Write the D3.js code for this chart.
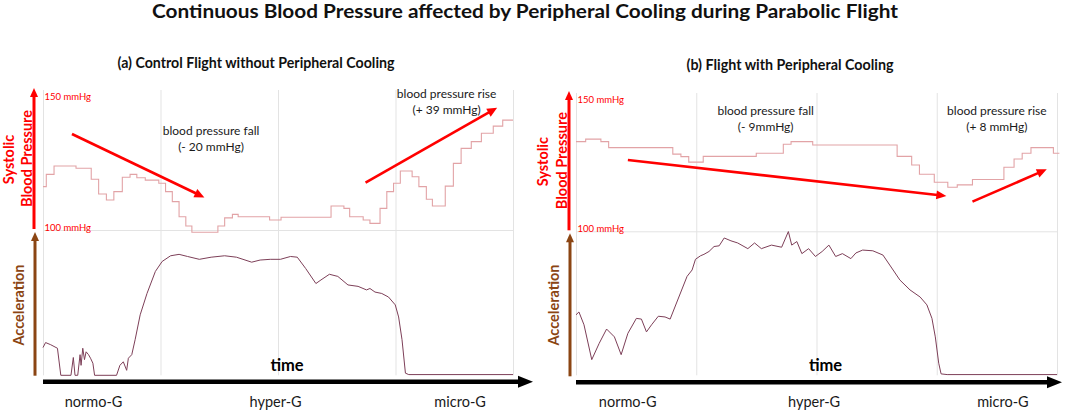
<!DOCTYPE html>
<html>
<head>
<meta charset="utf-8">
<script src="https://cdn.jsdelivr.net/npm/d3@7"></script>
<style>
  body { margin: 0; background: #fff; }
  svg { display: block; }
  text { font-family: Lato, "Open Sans", sans-serif; }
</style>
</head>
<body>
<div id="chart"></div>
<script>
const WIDTH = 1065
const HEIGHT = 412

// --- data (time in s, 0..80 ; pressure in mmHg ; acceleration in g) ---

const mainTitle = "Continuous Blood Pressure affected by Peripheral Cooling during Parabolic Flight"
const panelTitles = ["(a) Control Flight without Peripheral Cooling", "(b) Flight with Peripheral Cooling"]
const phaseLabels = ["normo-G", "hyper-G", "micro-G"]
const phaseTimes = [8.6, 39.6, 71]
const gridTimes = [0, 20, 40, 60, 80]
const bpTicks = [100, 150]

// (a) control flight
const ctrlBpTime = [0, 0.56, 1.88, 5.62, 8.21, 9.47, 10.79, 12.06, 13.5, 14.82, 15.97, 17.41, 19.71, 20.86, 22.01,
  23.16, 24.31, 25.34, 29.77, 30.92, 32.24, 33.22, 38.57, 40.52, 49.03, 51.22, 52.2, 54.5, 55.65, 57.37, 58.52,
  59.67, 60.82, 62.83, 63.98, 65.25, 66.28, 68.47, 69.85, 71.17, 72.9, 74.62, 76.64, 78.25, 80]
const ctrlBp = [115.4, 120.1, 123.3, 122.4, 118.2, 112.6, 110.3, 113.5, 119.0, 120.1, 118.8, 117.9, 116.7, 113.5, 109.7,
  103.9, 100.4, 98.0, 100.4, 103.5, 104.8, 103.9, 102.7, 103.7, 108.0, 107.1, 103.9, 102.7, 101.4, 107.1, 113.5,
  116.7, 121.4, 119.2, 115.4, 110.6, 108.0, 115.6, 124.3, 130.0, 132.6, 135.8, 138.5, 140.8, 140.8]
const ctrlAccTime = [0, 0.44, 1.31, 2.46, 3.03, 4.76, 5.16, 5.45, 5.91, 6.31, 6.48, 6.77, 7.06, 7.34, 7.75,
  8.09, 8.49, 8.78, 12.52, 13.09, 13.67, 14.24, 14.53, 15.11, 15.68, 16.54, 17.7, 19.13, 20.28, 21.72,
  23.16, 24.6, 26.61, 28.62, 30.92, 32.93, 35.52, 36.96, 38.68, 40.41, 42.13, 43.28, 44.72, 46.45, 47.31,
  48.75, 50.18, 51.91, 53.63, 55.07, 55.65, 56.51, 57.66, 58.81, 59.96, 60.53, 61.11, 61.69, 62.26, 80]
const ctrlAcc = [0.39, 0.46, 0.43, 0.38, 0.0, 0.0, 0.25, 0.0, 0.0, 0.29, 0.14, 0.38, 0.22, 0.33, 0.29,
  0.24, 0.17, 0.0, 0.0, 0.14, 0.19, 0.07, 0.24, 0.29, 0.50, 0.85, 1.15, 1.46, 1.60, 1.68,
  1.70, 1.67, 1.63, 1.66, 1.68, 1.66, 1.59, 1.62, 1.63, 1.63, 1.67, 1.66, 1.50, 1.29, 1.34,
  1.42, 1.39, 1.27, 1.25, 1.20, 1.22, 1.17, 1.15, 1.10, 0.99, 0.82, 0.50, 0.03, 0.01, 0.01]
// annotation arrows: [t0, bp0, t1, bp1]
const ctrlArrows = [[4.93, 135.5, 27.47, 111.3], [54.9, 116.9, 77.3, 145.5]]
const ctrlNotes = [["blood pressure fall", "(- 20 mmHg)"], ["blood pressure rise", "(+ 39 mmHg)"]]
const ctrlNoteAt = [[28.6, 137.0], [68.7, 151.0]]

// (b) flight with peripheral cooling
const coolBpTime = [0, 1.61, 4.14, 5.43, 16.1, 17.45, 18.75, 21.16, 29.98, 34.48, 35.77, 39.37, 53.41, 55.83,
  57.12, 59.59, 61.84, 63.41, 65.94, 71.17, 72.86, 74.21, 75.67, 79.4, 80.4]
const coolBp = [133.5, 134.5, 133.5, 131.2, 128.7, 127.7, 125.6, 127.8, 129.0, 132.5, 133.5, 132.2, 127.8, 124.5,
  120.9, 117.8, 115.9, 116.8, 118.9, 123.6, 126.8, 129.0, 131.2, 129.0, 129.0]
const coolAccTime = [0, 0.49, 1.33, 2.62, 3.86, 5.09, 6.39, 7.51, 8.63, 10.04, 10.88, 11.72, 12.57, 13.69, 14.81,
  15.66, 16.78, 18.47, 19.31, 19.87, 20.71, 21.28, 22.12, 22.96, 23.81, 24.65, 25.77, 26.89, 28.58, 29.7,
  30.83, 32.51, 34.2, 35.32, 35.88, 36.73, 37.57, 38.69, 39.82, 40.94, 42.06, 43.19, 44.31, 45.72, 46.56,
  47.68, 49.37, 51.05, 52.74, 53.86, 55.55, 57.24, 58.36, 59.2, 59.76, 60.33, 60.72, 61.73, 80]
const coolAcc = [0.85, 0.89, 0.71, 0.22, 0.45, 0.65, 0.54, 0.29, 0.59, 0.80, 0.79, 0.61, 0.71, 0.83, 0.82,
  0.79, 1.03, 1.39, 1.48, 1.63, 1.68, 1.70, 1.74, 1.81, 1.82, 1.93, 1.89, 1.86, 1.78, 1.86,
  1.78, 1.83, 1.80, 2.02, 1.83, 1.88, 1.71, 1.78, 1.67, 1.74, 1.83, 1.67, 1.71, 1.64, 1.72,
  1.76, 1.75, 1.69, 1.48, 1.34, 1.20, 1.10, 0.99, 0.80, 0.54, 0.17, 0.02, 0.01, 0.01]
const coolArrows = [[8.63, 126.4, 61.6, 112.5], [65.94, 110.3, 78.3, 122.8]]
const coolNotes = [["blood pressure fall", "(- 9mmHg)"], ["blood pressure rise", "(+ 8 mmHg)"]]
const coolNoteAt = [[31.55, 145.5], [70, 145.5]]

// colours
const RED = "#ff0000"
const BROWN = "#8b4513"
const BP_LINE = "#e2a3a6"
const ACC_LINE = "#7d3f58"
const GRID = "#e3e3e3"

// --- layout of the two panels ---
const panels = [
  { x0: 43, x1: 513, y150: 96, y100: 227, accBase: 375.3, gridTop: 90, axisX: 34, timeY: 381.7, tipX: 533, titleX: 256, titleY: 62, titleW: 277,
    title: panelTitles[0], bpT: ctrlBpTime, bp: ctrlBp, accT: ctrlAccTime, acc: ctrlAcc, arrows: ctrlArrows, notes: ctrlNotes, noteAt: ctrlNoteAt },
  { x0: 576, x1: 1057, y150: 99, y100: 228.3, accBase: 375.3, gridTop: 93, axisX: 569, timeY: 382.3, tipX: 1062, titleX: 790, titleY: 64, titleW: 207,
    title: panelTitles[1], bpT: coolBpTime, bp: coolBp, accT: coolAccTime, acc: coolAcc, arrows: coolArrows, notes: coolNotes, noteAt: coolNoteAt }
]

const svg = d3.select("#chart")
  .append("svg")
  .attr("width", WIDTH)
  .attr("height", HEIGHT)

svg.append("text")
  .attr("x", 525)
  .attr("y", 10)
  .attr("dominant-baseline", "central")
  .attr("text-anchor", "middle")
  .attr("font-size", 19)
  .attr("font-weight", 700)
  .attr("textLength", 746)
  .attr("lengthAdjust", "spacingAndGlyphs")
  .attr("fill", "#111")
  .text(mainTitle)

// straight arrow with a triangular head, drawn as line + polygon
function arrow(g, x1, y1, x2, y2, color, width, headLen, headW) {
  const a = Math.atan2(y2 - y1, x2 - x1)
  const bx = x2 - headLen * Math.cos(a), by = y2 - headLen * Math.sin(a)
  g.append("line")
    .attr("x1", x1).attr("y1", y1)
    .attr("x2", bx + Math.cos(a)).attr("y2", by + Math.sin(a))
    .attr("stroke", color)
    .attr("stroke-width", width)
  const px = -Math.sin(a) * headW / 2, py = Math.cos(a) * headW / 2
  g.append("path")
    .attr("d", `M${x2},${y2}L${bx + px},${by + py}L${bx - px},${by - py}Z`)
    .attr("fill", color)
}

function drawPanel(p) {
  const g = svg.append("g")

  const x = d3.scaleLinear().domain([0, 80]).range([p.x0, p.x1])
  const yBp = d3.scaleLinear().domain([100, 150]).range([p.y100, p.y150])
  const yAcc = d3.scaleLinear().domain([0, 2]).range([p.accBase, p.accBase - 142.3])

  // panel title
  g.append("text")
    .attr("x", p.titleX)
    .attr("y", p.titleY)
    .attr("dominant-baseline", "central")
    .attr("text-anchor", "middle")
    .attr("font-size", 15)
    .attr("font-weight", 700)
    .attr("textLength", p.titleW)
    .attr("lengthAdjust", "spacingAndGlyphs")
    .attr("fill", "#111")
    .text(p.title)

  // vertical grid lines (phase boundaries)
  const grid = g.append("g")
    .attr("transform", `translate(0,${p.accBase})`)
    .call(d3.axisBottom(x).tickValues(gridTimes).tickSize(-(p.accBase - p.gridTop)).tickFormat(""))
  grid.select(".domain").remove()
  grid.selectAll("line").attr("stroke", GRID)

  // horizontal separator at the 100 mmHg level
  g.append("line")
    .attr("x1", p.x0).attr("x2", p.x1)
    .attr("y1", yBp(100) + 3.5).attr("y2", yBp(100) + 3.5)
    .attr("stroke", GRID)

  // mmHg labels
  const bpAxis = g.append("g")
    .attr("transform", `translate(${p.x0},0)`)
    .call(d3.axisRight(yBp).tickValues(bpTicks).tickSize(0).tickPadding(1.5).tickFormat(d => d + " mmHg"))
  bpAxis.select(".domain").remove()
  bpAxis.selectAll("text")
    .attr("fill", RED)
    .attr("font-size", 9.5)
    .attr("font-family", "Lato, sans-serif")

  // blood pressure trace
  const bpLine = d3.line()
    .x(d => x(d[0]))
    .y(d => yBp(d[1]))
    .curve(d3.curveStepAfter)
  g.append("path")
    .datum(d3.zip(p.bpT, p.bp))
    .attr("d", bpLine)
    .attr("fill", "none")
    .attr("stroke", BP_LINE)
    .attr("stroke-width", 1.1)

  // acceleration trace
  const accLine = d3.line()
    .x(d => x(d[0]))
    .y(d => yAcc(d[1]))
  g.append("path")
    .datum(d3.zip(p.accT, p.acc))
    .attr("d", accLine)
    .attr("fill", "none")
    .attr("stroke", ACC_LINE)
    .attr("stroke-width", 1)

  // annotation arrows and texts
  p.arrows.forEach(a => arrow(g, x(a[0]), yBp(a[1]), x(a[2]), yBp(a[3]), RED, 2.6, 10, 9))
  p.notes.forEach((n, i) => {
    const t = g.append("text")
      .attr("text-anchor", "middle")
      .attr("font-size", 12)
      .attr("fill", "#1a1a1a")
    n.forEach((line, j) => {
      t.append("tspan")
        .attr("x", x(p.noteAt[i][0]))
        .attr("y", yBp(p.noteAt[i][1]) + j * 16)
        .attr("dominant-baseline", "central")
        .text(line)
    })
  })

  // y axes arrows
  arrow(g, p.axisX, p.y100 + 2, p.axisX, p.gridTop - 2, RED, 3, 9, 8)
  arrow(g, p.axisX + 1, p.timeY - 6, p.axisX + 1, p.y100 + 5, BROWN, 3, 9, 8)

  // time axis
  arrow(g, p.x0, p.timeY, p.tipX, p.timeY, "#000", 4.5, 15, 12)

  const midBp = (p.y100 + p.gridTop) / 2
  g.append("text")
    .attr("x", p.axisX - 26)
    .attr("y", midBp + 1)
    .attr("transform", `rotate(-90,${p.axisX - 26},${midBp + 1})`)
    .attr("text-anchor", "middle")
    .attr("dominant-baseline", "central")
    .attr("font-size", 14.5)
    .attr("font-weight", 700)
    .attr("fill", RED)
    .text("Systolic")
  g.append("text")
    .attr("x", p.axisX - 7.5)
    .attr("y", midBp)
    .attr("transform", `rotate(-90,${p.axisX - 7.5},${midBp})`)
    .attr("text-anchor", "middle")
    .attr("dominant-baseline", "central")
    .attr("font-size", 14.5)
    .attr("font-weight", 700)
    .attr("fill", RED)
    .text("Blood Pressure")
  g.append("text")
    .attr("x", p.axisX - 16)
    .attr("y", 305)
    .attr("transform", `rotate(-90,${p.axisX - 16},305)`)
    .attr("text-anchor", "middle")
    .attr("dominant-baseline", "central")
    .attr("font-size", 14.5)
    .attr("font-weight", 700)
    .attr("fill", BROWN)
    .text("Acceleration")

  g.append("text")
    .attr("x", x(40) + 9)
    .attr("y", 365)
    .attr("text-anchor", "middle")
    .attr("dominant-baseline", "central")
    .attr("font-size", 16.5)
    .attr("font-weight", 700)
    .attr("fill", "#000")
    .text("time")

  g.selectAll(".phase")
    .data(phaseLabels)
    .enter()
    .append("text")
    .attr("class", "phase")
    .attr("x", (d, i) => x(phaseTimes[i]))
    .attr("y", 401)
    .attr("text-anchor", "middle")
    .attr("dominant-baseline", "central")
    .attr("font-size", 14.5)
    .attr("fill", "#1a1a1a")
    .text(d => d)
}

panels.forEach(drawPanel)
</script>
</body>
</html>
